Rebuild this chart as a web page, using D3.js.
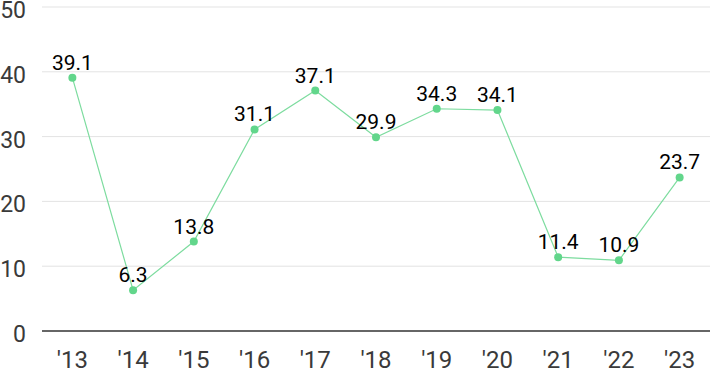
<!DOCTYPE html>
<html><head><meta charset="utf-8">
<script src="https://cdn.jsdelivr.net/npm/d3@7"></script>
<style>body{margin:0;background:#fff}svg{display:block}</style>
</head><body><svg id="c" width="710" height="371"></svg>
<script>
const years = ["'13","'14","'15","'16","'17","'18","'19","'20","'21","'22","'23"];
const values = [39.1,6.3,13.8,31.1,37.1,29.9,34.3,34.1,11.4,10.9,23.7];
const yTicks = [0,10,20,30,40,50];

const svg = d3.select("#c");
const font = "Roboto, 'Noto Sans', sans-serif";
const x = d3.scalePoint().domain(years).range([42,710]).padding(0.5);
const y = d3.scaleLinear().domain([0,50]).range([331,7]);

svg.append("g").selectAll("line").data(yTicks.filter(d=>d>0)).join("line")
  .attr("x1",42).attr("x2",710).attr("y1",d=>y(d)).attr("y2",d=>y(d))
  .attr("stroke","#e3e3e3").attr("stroke-width",1);
svg.append("line").attr("x1",42).attr("x2",710).attr("y1",y(0)).attr("y2",y(0))
  .attr("stroke","#333").attr("stroke-width",1.5);

svg.append("g").selectAll("text").data(yTicks).join("text")
  .attr("x",26).attr("y",d=>y(d)).attr("dy","0.48em").attr("text-anchor","end")
  .attr("font-family",font).attr("font-size",23).attr("fill","#3a3a3a").text(d=>d);

svg.append("g").selectAll("text").data(years).join("text")
  .attr("x",d=>x(d)).attr("y",368).attr("text-anchor","middle")
  .attr("font-family",font).attr("font-size",24).attr("fill","#3a3a3a").text(d=>d);

const line = d3.line().x((d,i)=>x(years[i])).y(d=>y(d));
svg.append("path").datum(values).attr("d",line).attr("fill","none")
  .attr("stroke","#7ddc9f").attr("stroke-width",1.2);
svg.append("g").selectAll("circle").data(values).join("circle")
  .attr("cx",(d,i)=>x(years[i])).attr("cy",d=>y(d)).attr("r",4).attr("fill","#62d68b");
svg.append("g").selectAll("text").data(values).join("text")
  .attr("x",(d,i)=>x(years[i])).attr("y",d=>y(d)-8).attr("text-anchor","middle")
  .attr("font-family",font).attr("font-size",21).attr("fill","#000").text(d=>d.toFixed(1));
</script></body></html>
